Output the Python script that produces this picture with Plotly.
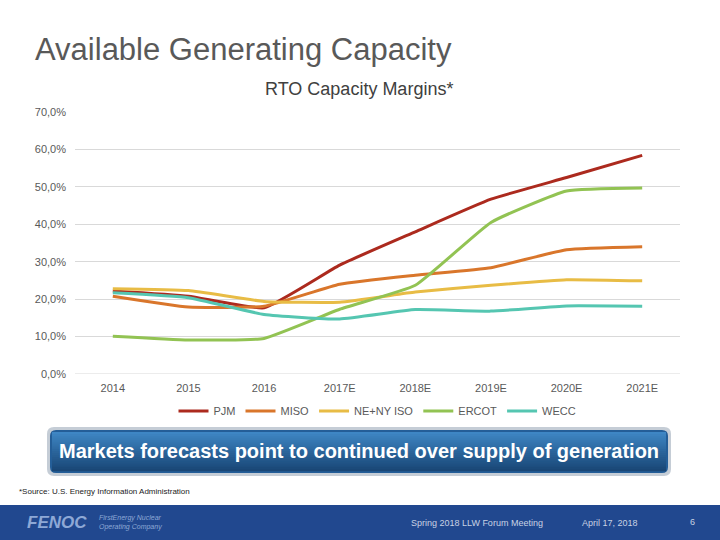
import plotly.graph_objects as go

categories = ["2014", "2015", "2016", "2017E", "2018E", "2019E", "2020E", "2021E"]
series_names = ["PJM", "MISO", "NE+NY ISO", "ERCOT", "WECC"]
pjm = [0.222, 0.208, 0.177, 0.291, 0.380, 0.467, 0.525, 0.584]
miso = [0.208, 0.179, 0.181, 0.240, 0.264, 0.284, 0.332, 0.340]
neny = [0.228, 0.223, 0.194, 0.192, 0.219, 0.237, 0.252, 0.249]
ercot = [0.101, 0.091, 0.095, 0.173, 0.237, 0.405, 0.489, 0.497]
wecc = [0.217, 0.204, 0.159, 0.147, 0.172, 0.168, 0.182, 0.181]
series_values = [pjm, miso, neny, ercot, wecc]
series_colors = ["#AC2A1E", "#D9762B", "#E8BC45", "#92C353", "#55C6B1"]

W, H = 720, 540
L, R, T, B = 75, 680, 112, 374


def px(x):
    return (x - L) / (R - L)


def py(y):
    return (B - y) / (B - T)


fig = go.Figure()
for name, vals, col in zip(series_names, series_values, series_colors):
    fig.add_trace(go.Scatter(
        x=categories, y=vals, name=name, mode="lines",
        line=dict(color=col, width=3, shape="spline", smoothing=0.4),
    ))

shapes = []
annotations = []

# Footer band
shapes.append(dict(type="rect", xref="paper", yref="paper",
                   x0=px(0), x1=px(W), y0=py(540), y1=py(505),
                   fillcolor="#21488F", line=dict(width=0), layer="below"))


def rounded(x0, y0, x1, y1, r):
    return (f"M {px(x0+r)},{py(y0)} L {px(x1-r)},{py(y0)} "
            f"Q {px(x1)},{py(y0)} {px(x1)},{py(y0+r)} "
            f"L {px(x1)},{py(y1-r)} Q {px(x1)},{py(y1)} {px(x1-r)},{py(y1)} "
            f"L {px(x0+r)},{py(y1)} Q {px(x0)},{py(y1)} {px(x0)},{py(y1-r)} "
            f"L {px(x0)},{py(y0+r)} Q {px(x0)},{py(y0)} {px(x0+r)},{py(y0)} Z")


shapes.append(dict(type="path", xref="paper", yref="paper",
                   path=rounded(47, 427, 671, 476, 7),
                   fillcolor="#C5CDD6", line=dict(width=0)))
shapes.append(dict(type="path", xref="paper", yref="paper",
                   path=rounded(50, 430, 668, 473, 6),
                   fillcolor="#245E98", line=dict(width=0)))
top_c = (0x3E, 0x86, 0xC4)
bot_c = (0x1A, 0x47, 0x76)
n = 20
y0, y1 = 432, 471
for i in range(n):
    t = i / (n - 1)
    c = tuple(int(top_c[k] + (bot_c[k] - top_c[k]) * t) for k in range(3))
    ya = y0 + (y1 - y0) * i / n
    yb = y0 + (y1 - y0) * (i + 1) / n
    shapes.append(dict(type="rect", xref="paper", yref="paper",
                       x0=px(52), x1=px(666), y0=py(yb + 0.3), y1=py(ya),
                       fillcolor="rgb(%d,%d,%d)" % c, line=dict(width=0)))

annotations.append(dict(text="<b>Markets forecasts point to continued over supply of generation</b>",
                        xref="paper", yref="paper", x=px(359), y=py(451),
                        xanchor="center", yanchor="middle", showarrow=False,
                        font=dict(family="Liberation Sans, Arial", size=20, color="white")))

# Titles
annotations.append(dict(text="Available Generating Capacity", xref="paper", yref="paper",
                        x=px(33), y=py(49), xanchor="left", yanchor="middle", showarrow=False,
                        font=dict(family="Liberation Sans, Arial", size=31, color="#595959")))
annotations.append(dict(text="RTO Capacity Margins*", xref="paper", yref="paper",
                        x=px(359), y=py(89), xanchor="center", yanchor="middle", showarrow=False,
                        font=dict(family="Liberation Sans, Arial", size=18, color="#404040")))

# Footer texts
annotations.append(dict(text="*Source: U.S. Energy Information Administration", xref="paper", yref="paper",
                        x=px(17), y=py(491), xanchor="left", yanchor="middle", showarrow=False,
                        font=dict(family="Liberation Sans, Arial", size=8, color="#222222")))
annotations.append(dict(text="<b><i>FENOC</i></b>", xref="paper", yref="paper",
                        x=px(25), y=py(522), xanchor="left", yanchor="middle", showarrow=False,
                        font=dict(family="Liberation Sans, Arial", size=17, color="#8EA8D6")))
annotations.append(dict(text="<i>FirstEnergy Nuclear<br>Operating Company</i>", xref="paper", yref="paper",
                        x=px(97), y=py(522), xanchor="left", yanchor="middle", showarrow=False,
                        align="left",
                        font=dict(family="Liberation Sans, Arial", size=7, color="#8EA8D6")))
annotations.append(dict(text="Spring 2018 LLW Forum Meeting", xref="paper", yref="paper",
                        x=px(409), y=py(523), xanchor="left", yanchor="middle", showarrow=False,
                        font=dict(family="Liberation Sans, Arial", size=9, color="#C8D2E4")))
annotations.append(dict(text="April 17, 2018", xref="paper", yref="paper",
                        x=px(580), y=py(523), xanchor="left", yanchor="middle", showarrow=False,
                        font=dict(family="Liberation Sans, Arial", size=9, color="#C8D2E4")))
annotations.append(dict(text="6", xref="paper", yref="paper",
                        x=px(692), y=py(522), xanchor="center", yanchor="middle", showarrow=False,
                        font=dict(family="Liberation Sans, Arial", size=9, color="#C8D2E4")))

fig.update_layout(
    width=W, height=H,
    margin=dict(l=L, r=W - R, t=T, b=H - B),
    paper_bgcolor="white", plot_bgcolor="white",
    separators=",.",
    font=dict(family="Liberation Sans, Arial", size=11, color="#595959"),
    showlegend=True,
    legend=dict(orientation="h", x=0.5, xanchor="center", y=py(411), yanchor="middle",
                font=dict(size=11, color="#595959"), bgcolor="rgba(0,0,0,0)",
                itemwidth=30, tracegroupgap=0),
    shapes=shapes,
    annotations=annotations,
    xaxis=dict(type="category", range=[-0.5, 7.5], showgrid=False, showline=False,
               zeroline=False, ticks="", ticklabelstandoff=6,
               tickfont=dict(size=11, color="#595959"), fixedrange=True),
    yaxis=dict(range=[0, 0.7], dtick=0.1, tickformat=".1%", showgrid=True,
               gridcolor="#D9D9D9", gridwidth=1, zeroline=False, showline=False,
               ticks="", ticklabelstandoff=8,
               tickfont=dict(size=11, color="#595959"), fixedrange=True),
)
fig.add_shape(type="line", xref="paper", yref="y", x0=0, x1=1, y0=0, y1=0,
              line=dict(color="#D9D9D9", width=1), layer="below")

fig.write_html("out.html")
